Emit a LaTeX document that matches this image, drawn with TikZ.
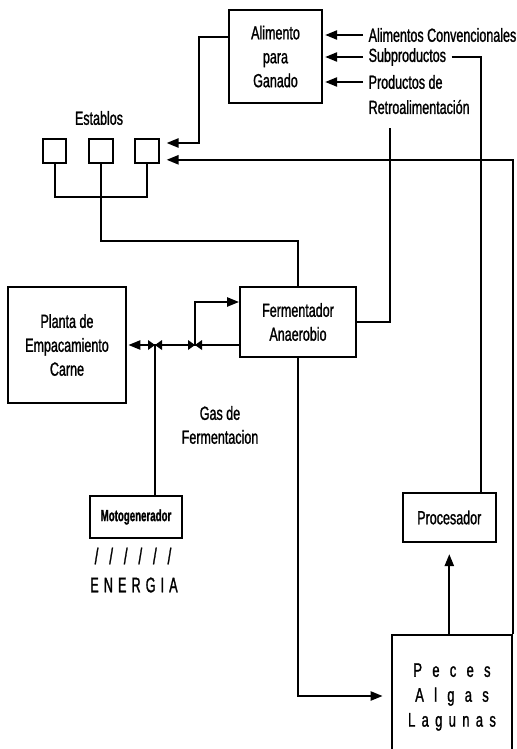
\documentclass[tikz,border=0pt]{standalone}
\usepackage{fontspec}
\setmainfont{Liberation Sans}[FakeStretch=0.66, FakeBold=1.2]
\newfontfamily\narrowfont{Liberation Sans}[FakeStretch=0.6, FakeBold=1.2]
\usetikzlibrary{arrows.meta, positioning, calc}

\tikzset{
  box/.style={draw, line width=1.4pt, inner sep=0pt, align=center},
  arr/.style={-{Triangle[length=8.5pt, width=6.5pt]}},
}
% valve (bowtie) at a named coordinate
\newcommand{\valve}[1]{%
  \fill ($(#1)+(-7,-5)$) -- ($(#1)+(7,5)$) -- ($(#1)+(7,-5)$) -- ($(#1)+(-7,5)$) -- cycle;}

\begin{document}
\begin{tikzpicture}[x=0.025cm, y=-0.025cm, line width=1.4pt, font=\fontsize{13.5}{17}\selectfont]
    \useasboundingbox (0,0) rectangle (516,749);
    \clip (0,0) rectangle (516,749);

    % Boxes
    \node[box, minimum width=2.33cm, minimum height=2.33cm] (feed) at (275.5,56.5) {Alimento\\para\\Ganado};
    \node (establos) at (99,118) {Establos};
    \node[box, minimum size=0.58cm] (e1) at (54.7,151) {};
    \node[box, minimum size=0.58cm] (e2) at (101,151) {};
    \node[box, minimum size=0.58cm] (e3) at (147,151) {};
    \node[box, minimum width=2.9cm, minimum height=1.75cm] (ferm) at (298,322) {Fermentador\\Anaerobio};
    \node[box, minimum width=2.95cm, minimum height=2.9cm] (planta) at (67,345) {Planta de\\Empacamiento\\Carne};
    \node[box, minimum width=2.3cm, minimum height=1.05cm, font={\narrowfont\fontsize{11.5}{13}\selectfont\bfseries}] (moto) at (136,517) {Motogenerador};
    \node[box, minimum width=2.33cm, minimum height=1.22cm] (proc) at (449.3,517.5) {Procesador};
    \node[box, minimum width=3cm, minimum height=4cm, anchor=north] (peces) at (452,634) {};
    \node[align=center, font=\fontsize{14}{17.7}\selectfont] (pecestxt) at (452,697)
        {{\spaceskip=7.3pt P e c e s}\\{\spaceskip=7.3pt A l g a s}\\{\spaceskip=4.5pt L a g u n a s}};

    % Labels
    \node[anchor=west] (conv) at (363,35) {Alimentos Convencionales};
    \node[anchor=west] (subp) at (363,57) {Subproductos};
    \node[anchor=west] (prod) at (363,82) {Productos de};
    \node[anchor=west] (retro) at (363,107) {Retroalimentación};
    \node[align=center] (gas) at (220,425) {Gas de\\Fermentacion};
    \node[font={\narrowfont\fontsize{16}{17}\selectfont}] (rayas) at (133,556) {{\spaceskip=7.7pt / / / / / /}};
    \node[font={\narrowfont\fontsize{15}{16}\selectfont}] (energia) at (134,585) {{\spaceskip=3.6pt E N E R G I A}};

    % Feed inputs
    \draw[arr, shorten >=1.5pt] (conv.west) -- (feed.east |- conv.west);
    \draw[arr, shorten >=1.5pt] (subp.west) -- (feed.east |- subp.west);
    \draw[arr, shorten >=1.5pt] (prod.west) -- (feed.east |- prod.west);
    \draw (subp.east) -| ([xshift=-0.4cm]proc.north east);
    \coordinate (retrofoot) at (390,128);
    \draw (retrofoot) |- (ferm.east);

    % Establos
    \draw[arr, shorten >=5pt] ([yshift=0.49cm]feed.west) -- ++(-29,0) |- ([yshift=0.2cm]e3.east);
    \draw[arr, shorten >=5pt] (peces.north east) |- ([yshift=-0.22cm]e3.east);
    \draw (e1.south) -- ++(0,33.5) -| (e3.south);
    \draw (e2.south) -- ++(0,77) -| (ferm.north);

    % Gas line
    \coordinate (v1) at (155,345);
    \coordinate (v2) at (195,345);
    \draw[arr, shorten >=1pt] (ferm.west |- planta.east) -- (planta.east);
    \valve{v1}
    \valve{v2}
    \draw (v1) -- (v1 |- moto.north);
    \draw[arr] (v2) |- ([yshift=0.5cm]ferm.west);

    % Ponds
    \draw[arr, shorten >=6pt] (ferm.south) |- (peces.west |- 0,696);
    \draw[arr, shorten >=8pt] (proc.south |- peces.north) -- (proc.south);

\end{tikzpicture}
\end{document}
